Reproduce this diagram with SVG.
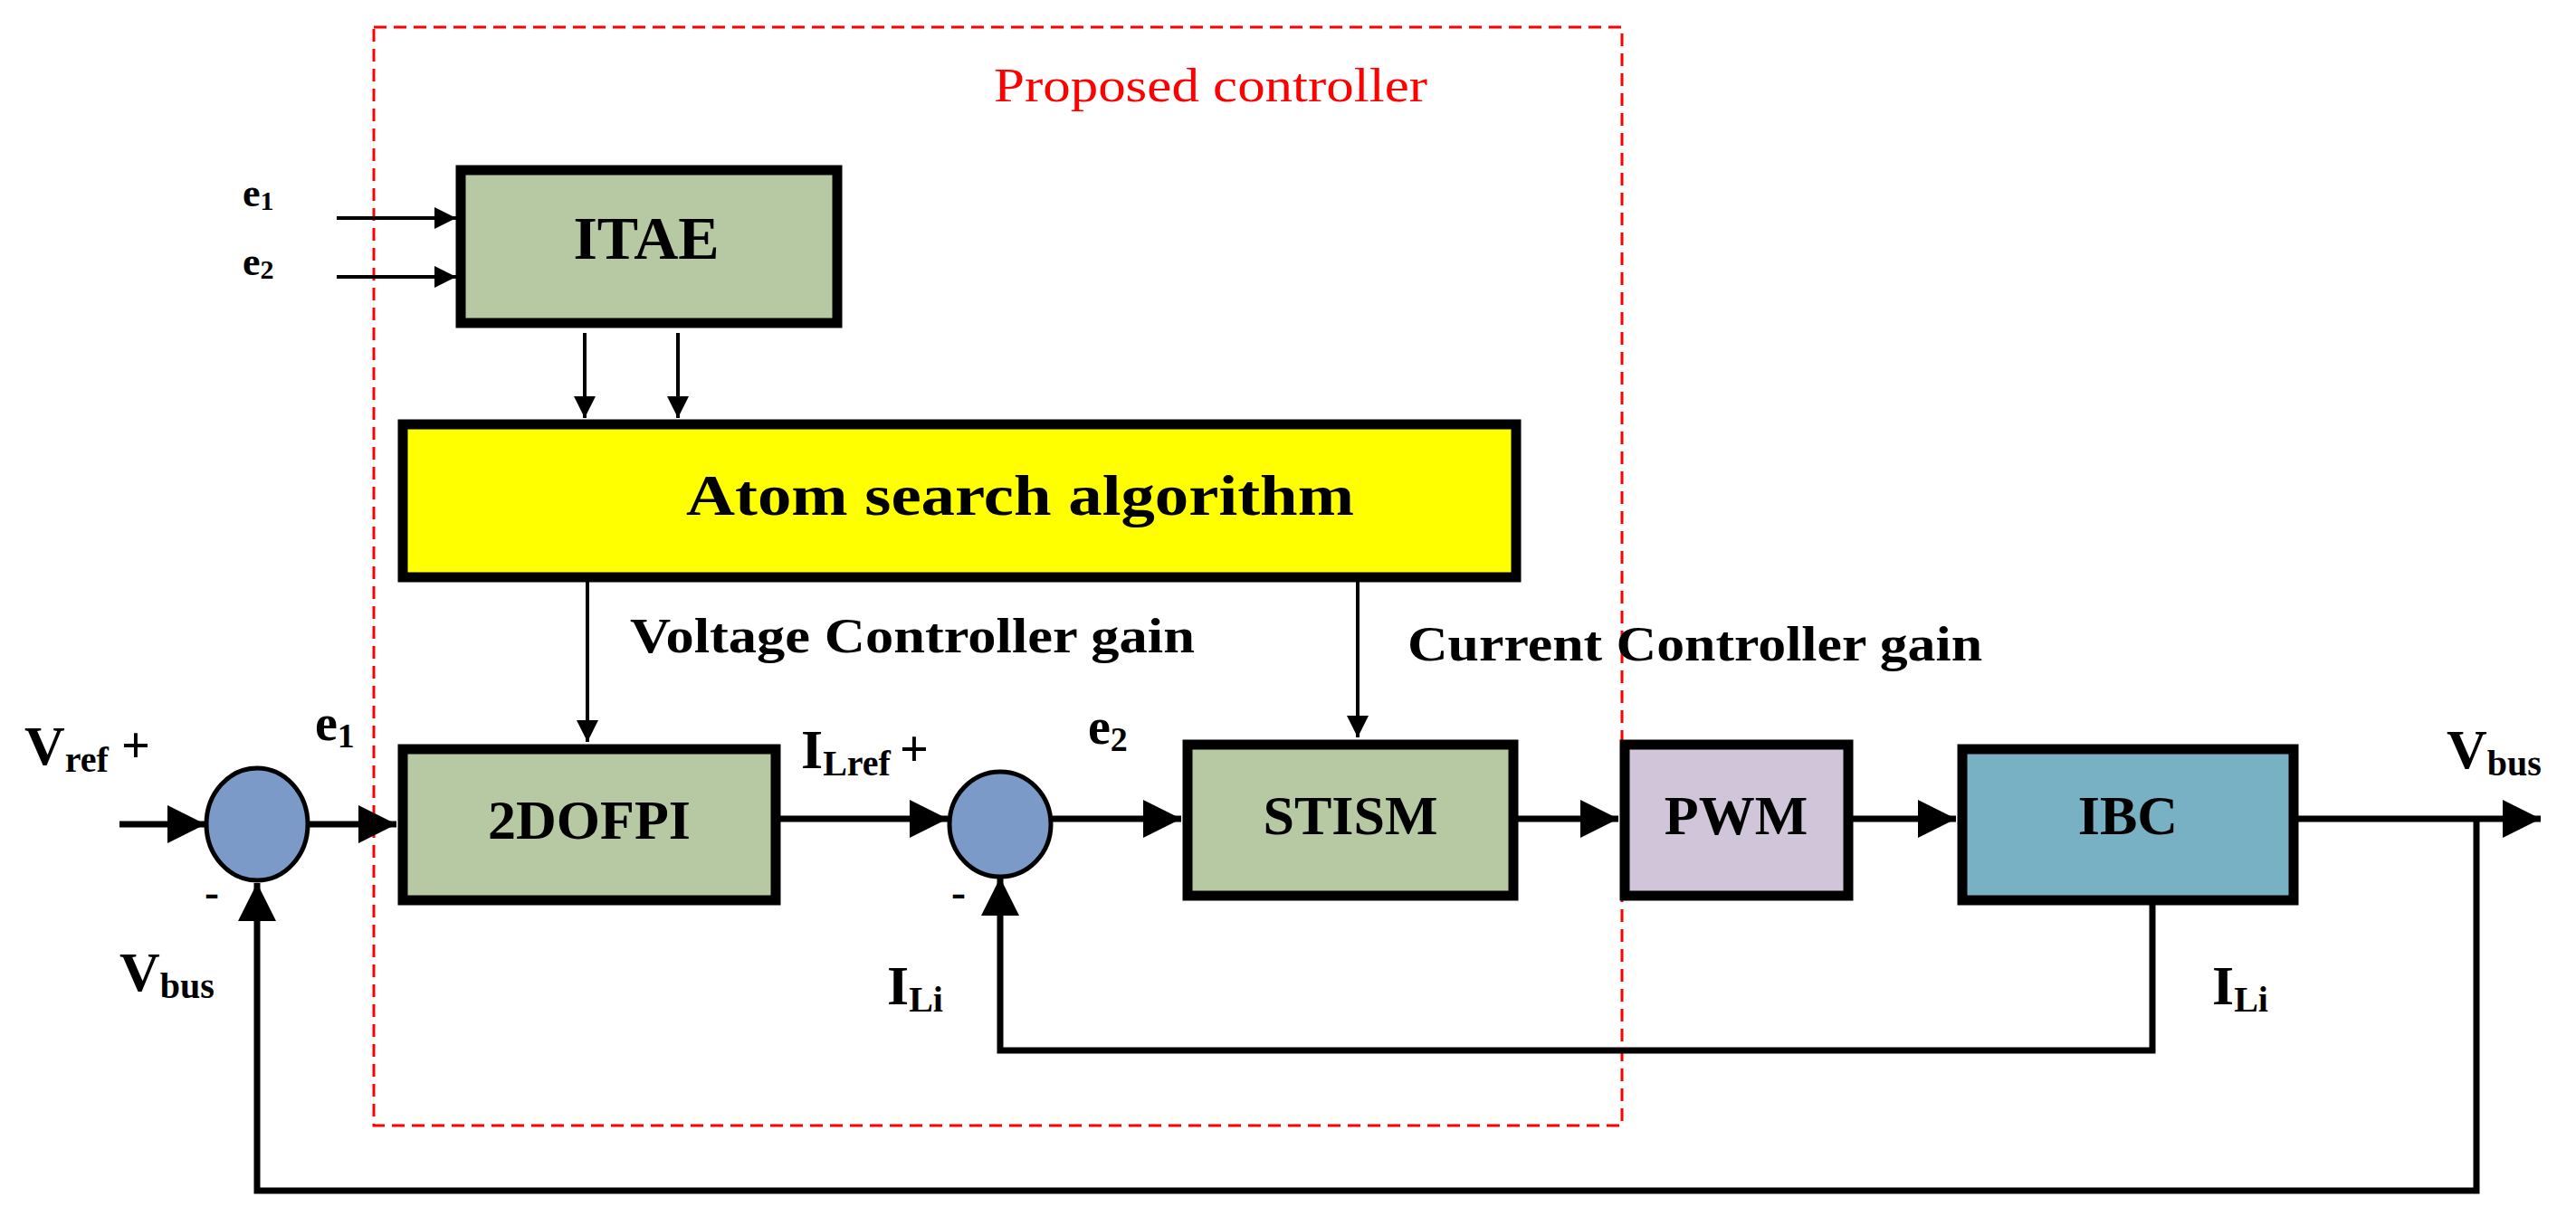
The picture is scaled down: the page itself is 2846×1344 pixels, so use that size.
<svg xmlns="http://www.w3.org/2000/svg" width="2846" height="1344" viewBox="0 0 2846 1344">
<defs>
<marker id="ah" viewBox="0 0 10 10" refX="10" refY="5" markerWidth="5" markerHeight="5" markerUnits="userSpaceOnUse" orient="auto" style="overflow:visible">
<path d="M0,0 L10,5 L0,10 z" fill="#000"/>
</marker>
<marker id="ahs" viewBox="0 0 10 10" refX="10" refY="5" markerWidth="7" markerHeight="6" orient="auto">
<path d="M0,0 L10,5 L0,10 z" fill="#000"/>
</marker>
</defs>
<style>
.t{font-family:"Liberation Serif",serif;font-weight:bold;fill:#000}
.box{stroke:#000;stroke-width:11}
.ln{stroke:#000;stroke-width:4;fill:none}
.thk{stroke:#000;stroke-width:7;fill:none}
.sum{fill:#7b9ac8;stroke:#000;stroke-width:5}
</style>
<rect width="2846" height="1344" fill="#fff"/>
<rect x="413" y="30" width="1379" height="1214" fill="none" stroke="#f00" stroke-width="3" stroke-dasharray="14,8"/>
<text x="1098" y="112" font-family="Liberation Serif,serif" font-size="52" fill="#f00" textLength="479" lengthAdjust="spacingAndGlyphs">Proposed controller</text>

<g id="connectors">
<line class="ln" x1="372" y1="241" x2="504" y2="241" marker-end="url(#ahs)"/>
<line class="ln" x1="372" y1="306" x2="504" y2="306" marker-end="url(#ahs)"/>
<line class="ln" x1="646" y1="368" x2="646" y2="462" marker-end="url(#ahs)"/>
<line class="ln" x1="749" y1="368" x2="749" y2="462" marker-end="url(#ahs)"/>
<line class="ln" x1="649" y1="643" x2="649" y2="820" marker-end="url(#ahs)"/>
<line class="ln" x1="1500" y1="643" x2="1500" y2="815" marker-end="url(#ahs)"/>
<line class="thk" x1="132" y1="911" x2="227" y2="911" marker-end="url(#ahs)"/>
<line class="thk" x1="341" y1="911" x2="438" y2="911" marker-end="url(#ahs)"/>
<line class="thk" x1="862" y1="905" x2="1047" y2="905" marker-end="url(#ahs)"/>
<line class="thk" x1="1162" y1="905" x2="1305" y2="905" marker-end="url(#ahs)"/>
<line class="thk" x1="1677" y1="905" x2="1788" y2="905" marker-end="url(#ahs)"/>
<line class="thk" x1="2047" y1="905" x2="2161" y2="905" marker-end="url(#ahs)"/>
<line class="thk" x1="2539" y1="905" x2="2807" y2="905" marker-end="url(#ahs)"/>
<polyline class="thk" points="2736,905 2736,1316 284,1316 284,976" marker-end="url(#ahs)"/>
<polyline class="thk" points="2378,1000 2378,1161 1105,1161 1105,970" marker-end="url(#ahs)"/>
</g>

<g id="itae"><rect class="box" x="509" y="188" width="416" height="169" fill="#b6c9a3"/>
<text class="t" x="714" y="286" font-size="68" text-anchor="middle">ITAE</text></g>
<g id="asa"><rect class="box" x="445" y="469" width="1230" height="169" fill="#ffff00"/>
<text class="t" x="1127" y="569" font-size="64" text-anchor="middle" textLength="738" lengthAdjust="spacingAndGlyphs">Atom search algorithm</text></g>
<g id="dofpi"><rect class="box" x="445" y="828" width="412" height="167" fill="#b6c9a3"/>
<text class="t" x="651" y="927" font-size="62" text-anchor="middle">2DOFPI</text></g>
<g id="stism"><rect class="box" x="1312" y="823" width="360" height="167" fill="#b6c9a3"/>
<text class="t" x="1492" y="922" font-size="62" text-anchor="middle">STISM</text></g>
<g id="pwm"><rect class="box" x="1795" y="823" width="247" height="167" fill="#d1c5da"/>
<text class="t" x="1918" y="922" font-size="62" text-anchor="middle">PWM</text></g>
<g id="ibc"><rect class="box" x="2168" y="828" width="366" height="167" fill="#78b0c4"/>
<text class="t" x="2351" y="922" font-size="62" text-anchor="middle">IBC</text></g>
<g id="sum1"><ellipse class="sum" cx="284" cy="911" rx="56" ry="62"/></g>
<g id="sum2"><ellipse class="sum" cx="1105" cy="911" rx="56" ry="58"/></g>

<g id="labels">
<text class="t" x="268" y="228" font-size="44">e<tspan font-size="30" dy="4">1</tspan></text>
<text class="t" x="268" y="304" font-size="44">e<tspan font-size="30" dy="4">2</tspan></text>
<text class="t" x="696" y="721" font-size="54" textLength="624" lengthAdjust="spacingAndGlyphs">Voltage Controller gain</text>
<text class="t" x="1555" y="730" font-size="54" textLength="635" lengthAdjust="spacingAndGlyphs">Current Controller gain</text>
<text class="t" x="27" y="845" font-size="62">V<tspan font-size="40" dy="8">ref</tspan><tspan font-size="56" dy="-10" dx="14">+</tspan></text>
<text class="t" x="348" y="818" font-size="56">e<tspan font-size="38" dy="8">1</tspan></text>
<text class="t" x="226" y="1002" font-size="48">-</text>
<text class="t" x="132" y="1095" font-size="62">V<tspan font-size="40" dy="8">bus</tspan></text>
<text class="t" x="885" y="849" font-size="62">I<tspan font-size="40" dy="8">Lref</tspan><tspan font-size="56" dy="-10" dx="10">+</tspan></text>
<text class="t" x="1202" y="822" font-size="56">e<tspan font-size="38" dy="8">2</tspan></text>
<text class="t" x="1051" y="1002" font-size="48">-</text>
<text class="t" x="980" y="1110" font-size="62">I<tspan font-size="40" dy="8">Li</tspan></text>
<text class="t" x="2703" y="849" font-size="62">V<tspan font-size="40" dy="8">bus</tspan></text>
<text class="t" x="2444" y="1110" font-size="62">I<tspan font-size="40" dy="8">Li</tspan></text>
</g>
</svg>
